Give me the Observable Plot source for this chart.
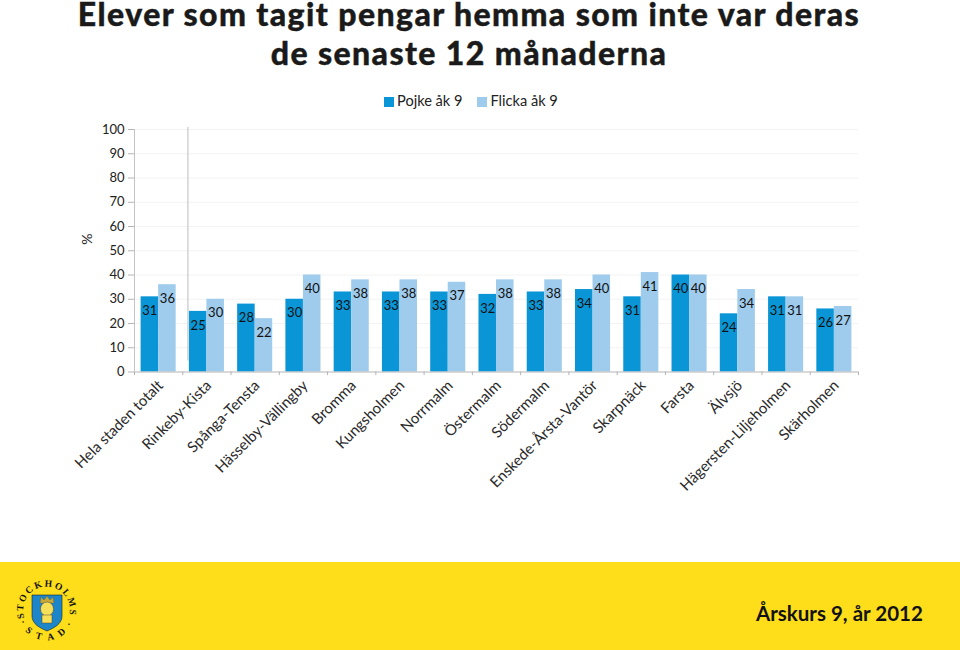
<!DOCTYPE html>
<html><head><meta charset="utf-8">
<script src="https://cdn.jsdelivr.net/npm/d3@7"></script>
<script src="https://cdn.jsdelivr.net/npm/@observablehq/plot@0.6"></script>
<style>
html,body{margin:0;padding:0;background:#fff;overflow:hidden}
#page{position:relative;width:960px;height:650px;overflow:hidden;font-family:Lato,sans-serif}
#title{position:absolute;left:0;top:0;width:938px;text-align:center;font:900 32px/21px Lato,sans-serif;letter-spacing:1.4px;-webkit-text-stroke:.4px #1a1a1a;color:#1a1a1a}
#title div{position:absolute;left:0;width:100%;white-space:nowrap}
#legend{position:absolute;left:384px;top:92px;font-size:14.6px;color:#222;line-height:18px;white-space:nowrap}
#legend i{display:inline-block;width:10px;height:10px;margin-right:3px;vertical-align:-0.5px}
#legend span{margin-right:15px}
#plot{position:absolute;left:0;top:110px}
#footer{position:absolute;left:0;top:562px;width:960px;height:88px;background:#FEDD1B}
#grade{position:absolute;left:756px;top:39px;font:bold 20.5px/24px Lato,sans-serif;color:#111;white-space:nowrap}
#logo{position:absolute;left:10px;top:14px}
</style></head><body>
<div id="page">
<div id="title"><div style="top:3px">Elever som tagit pengar hemma som inte var deras</div><div style="top:42px">de senaste 12 månaderna</div></div>
<div id="legend"></div>
<div id="plot"></div>
<div id="footer">
<svg id="logo" width="74" height="72" viewBox="0 0 74 72">
<defs>
<path id="ring" d="M14.5,42 A23.4,23.4 0 1 1 58.5,42"/>
<path id="ring2" d="M10,47 A29,29 0 0 0 63,47"/>
</defs>
<path d="M22,19 H52 V40 C52,48 44,52 37,55 C30,52 22,48 22,40 Z" fill="#1C86C8" stroke="#123" stroke-width=".6"/>
<path d="M30,27 L31,21 L34,24 L37,20 L40,24 L43,21 L44,27 Z" fill="#C9A83A" stroke="#553" stroke-width=".4"/>
<ellipse cx="37" cy="33" rx="6.5" ry="7" fill="#F6E05A" stroke="#543" stroke-width=".5"/>
<path d="M32,39 H42 V47 H32 Z" fill="#F6E05A" stroke="#543" stroke-width=".5"/>
<text font-family="Liberation Serif,serif" font-weight="bold" font-size="9.5" fill="#111"><textPath href="#ring" textLength="86" lengthAdjust="spacing">STOCKHOLMS</textPath></text>
<text font-family="Liberation Serif,serif" font-weight="bold" font-size="9.5" fill="#111" text-anchor="middle"><textPath href="#ring2" startOffset="50%" letter-spacing="2.4">· S T A D ·</textPath></text>
</svg>
<div id="grade">Årskurs 9, år 2012</div>
</div>
</div>
<script>
const categories = ["Hela staden totalt","Rinkeby-Kista","Spånga-Tensta","Hässelby-Vällingby","Bromma","Kungsholmen","Norrmalm","Östermalm","Södermalm","Enskede-Årsta-Vantör","Skarpnäck","Farsta","Älvsjö","Hägersten-Liljeholmen","Skärholmen"];
const pojke  = [31,25,28,30,33,33,33,32,33,34,31,40,24,31,26];
const flicka = [36,30,22,40,38,38,37,38,38,40,41,40,34,31,27];
const seriesNames = ["Pojke åk 9","Flicka åk 9"];
const seriesColors = ["#0A96D6","#9FCBEC"];
const yTicks = [0,10,20,30,40,50,60,70,80,90,100];

const rowsP = categories.map((c,i)=>({c,v:pojke[i]}));
const rowsF = categories.map((c,i)=>({c,v:flicka[i]}));
const step = 724/categories.length, gap = 6.6, barW = (step-2*gap)/2;

document.getElementById("legend").innerHTML = seriesNames.map((n,i)=>
  `<span><i style="background:${seriesColors[i]}"></i>${n}</span>`).join("");

const chart = Plot.plot({
  width:960, height:400,
  marginTop:19, marginBottom:138.5, marginLeft:134, marginRight:102,
  style:{fontFamily:"Lato,sans-serif", fontSize:"13px", color:"#222", background:"transparent"},
  x:{domain:categories, padding:0, round:false, label:null},
  y:{domain:[0,100], ticks:yTicks, label:null},
  marks:[
    Plot.ruleY(yTicks.filter(t=>t>0),{stroke:"#f3f3f3", strokeWidth:1}),
    Plot.barY(rowsP,{x:"c",y:"v",fill:seriesColors[0],insetLeft:gap,insetRight:gap+barW}),
    Plot.barY(rowsF,{x:"c",y:"v",fill:seriesColors[1],insetLeft:gap+barW,insetRight:gap}),
    Plot.ruleX(["Rinkeby-Kista"],{y1:4.5,y2:100.8,dx:-19,stroke:"#c8c8c8",strokeWidth:1.2}),
    Plot.ruleY([0],{stroke:"#b4b4b4",strokeWidth:1}),
    Plot.ruleX([...categories],{y1:0,y2:-1.5,dx:-step/2,stroke:"#b4b4b4"}),
    Plot.ruleX([categories[categories.length-1]],{y1:0,y2:-1.5,dx:step/2,stroke:"#b4b4b4"}),
    Plot.ruleX([categories[0]],{y1:0,y2:100,dx:-step/2,stroke:"#c4c4c4"}),
    Plot.text(rowsP,{x:"c",y:"v",text:"v",dx:-barW/2,dy:14,fill:"#111",fontSize:13}),
    Plot.text(rowsF,{x:"c",y:"v",text:"v",dx:barW/2,dy:14,fill:"#111",fontSize:13}),
    Plot.axisY({ticks:yTicks,tickSize:6,tickPadding:4,stroke:"#b4b4b4",color:"#222",fontSize:13,label:null}),
    Plot.text(["%"],{frameAnchor:"left",dx:-47,dy:-6,rotate:-90,fontSize:14,fill:"#222"}),
    Plot.axisX({tickSize:0,tickRotate:-45,tickPadding:11,dx:2,textAnchor:"end",fontSize:15,fill:"#2a2a2a",label:null,lineWidth:100})
  ]
});
document.getElementById("plot").appendChild(chart);
</script>
</body></html>
